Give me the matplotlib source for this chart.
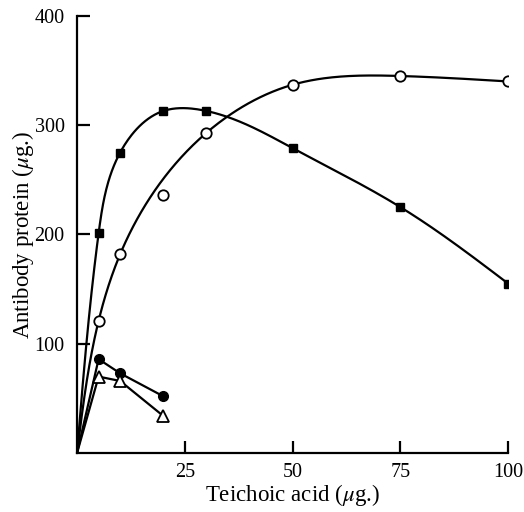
import numpy as np
import matplotlib
matplotlib.use("Agg")
import matplotlib.pyplot as plt

# Teichoic acid added (ug) and antibody protein precipitated (ug)
x_cuadrados = [0, 5, 10, 20, 30, 50, 75, 100]
y_cuadrados = [0, 201, 275, 313, 313, 279, 225, 155]

x_circulos = [0, 5, 10, 20, 30, 50, 75, 100]
y_circulos = [0, 121, 182, 236, 293, 337, 345, 340]

x_puntos = [0, 5, 10, 20]
y_puntos = [0, 86, 73, 52]

x_triangulos = [0, 5, 10, 20]
y_triangulos = [0, 70, 66, 34]

x_ticks = [25, 50, 75, 100]
y_ticks = [100, 200, 300, 400]


def spline_natural(t, v, tt):
    # natural cubic spline of v(t), evaluated at tt
    n = len(t)
    h = np.diff(t)
    A = np.zeros((n, n))
    b = np.zeros(n)
    A[0, 0] = A[-1, -1] = 1
    for i in range(1, n - 1):
        A[i, i - 1] = h[i - 1]
        A[i, i] = 2 * (h[i - 1] + h[i])
        A[i, i + 1] = h[i]
        b[i] = 6 * ((v[i + 1] - v[i]) / h[i] - (v[i] - v[i - 1]) / h[i - 1])
    M = np.linalg.solve(A, b)
    k = np.clip(np.searchsorted(t, tt) - 1, 0, n - 2)
    a = t[k + 1] - tt
    c = tt - t[k]
    hk = h[k]
    return (M[k] * a**3 + M[k + 1] * c**3) / (6 * hk) + \
        (v[k] / hk - M[k] * hk / 6) * a + (v[k + 1] / hk - M[k + 1] * hk / 6) * c


def curva(x, y, n=400):
    # smooth line through the points, parametrised by chord length on screen
    x = np.asarray(x, float)
    y = np.asarray(y, float)
    px, py = x * 4.32, y * 1.093
    t = np.concatenate([[0], np.cumsum(np.hypot(np.diff(px), np.diff(py)))])
    tt = np.linspace(0, t[-1], n)
    return spline_natural(t, x, tt), spline_natural(t, y, tt)


plt.rcParams['font.family'] = ['Liberation Serif', 'DejaVu Serif']
plt.rcParams['mathtext.fontset'] = 'stix'

fig = plt.figure(figsize=(5.24, 5.12), dpi=100)
ax = fig.add_axes([0.147, 0.115, 0.823, 0.854])

lw = 1.6
sx, sy = curva(x_cuadrados, y_cuadrados)
ax.plot(sx, sy, color='black', lw=lw, zorder=2)

# the drawn curve in the original passes by the 20 ug point, not through it
xc = [a for a in x_circulos if a != 20]
yc = [b for a, b in zip(x_circulos, y_circulos) if a != 20]
sx, sy = curva(xc, yc)
ax.plot(sx, sy, color='black', lw=lw, zorder=2)

ax.plot(x_triangulos, y_triangulos, color='black', lw=lw, zorder=2)
ax.plot(x_puntos, y_puntos, color='black', lw=lw, zorder=2)

ax.plot(x_cuadrados[1:], y_cuadrados[1:], 's', color='black', ms=6, ls='none', zorder=3)
ax.plot(x_circulos[1:], y_circulos[1:], 'o', mfc='white', mec='black', mew=1.3, ms=7.5, ls='none', zorder=3)
ax.plot(x_puntos[1:], y_puntos[1:], 'o', color='black', ms=7, ls='none', zorder=3)
ax.plot(x_triangulos[1:], y_triangulos[1:], '^', mfc='white', mec='black', mew=1.3, ms=8, ls='none', zorder=3)

ax.set_xlim(0, 100)
ax.set_ylim(0, 400)
ax.set_xticks(x_ticks)
ax.set_yticks(y_ticks)
ax.spines['top'].set_visible(False)
ax.spines['right'].set_visible(False)
ax.spines['left'].set_linewidth(1.6)
ax.spines['bottom'].set_linewidth(1.6)
ax.tick_params(direction='in', length=9, width=1.6, labelsize=14.5)
ax.tick_params(axis='x', pad=7)
ax.tick_params(axis='y', pad=9)

ax.set_xlabel(r'Teichoic acid ($\mu$g.)', fontsize=16.5, labelpad=0)
ax.set_ylabel(r'Antibody protein ($\mu$g.)', fontsize=16.5, labelpad=-1)

fig.savefig('out.png', dpi=100)
